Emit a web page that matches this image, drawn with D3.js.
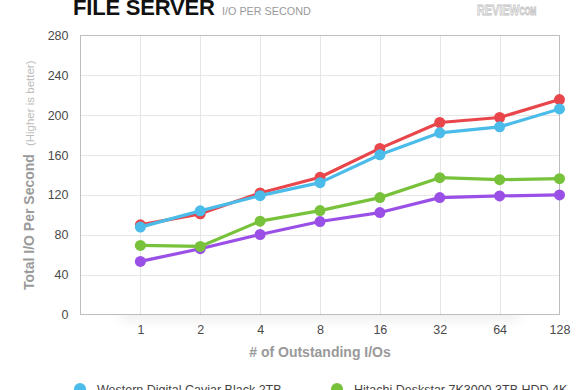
<!DOCTYPE html>
<html><head><meta charset="utf-8">
<script src="https://cdn.jsdelivr.net/npm/d3@7"></script>
<style>
html,body{margin:0;padding:0;background:#fff;}
svg{display:block;font-family:"Liberation Sans",Arial,Helvetica,sans-serif;}
</style></head>
<body><svg id="c" width="580" height="390"></svg>
<script>
const categories = ["1","2","4","8","16","32","64","128"];
const seriesNames = ["Western Digital Caviar Black 2TB","Hitachi Deskstar 7K3000 3TB HDD 4K","Seagate Barracuda XT 3TB","Western Digital Caviar Green 3TB"];
const seriesColors = ["#4bbbea","#77c23a","#e9464c","#9a50e6"];
const valuesBlue   = [87.7, 104, 119.3, 132.3, 160.3, 182.3, 188.3, 206.3];
const valuesGreen  = [69.3, 68.3, 93.7, 104.3, 117.3, 137.3, 135.3, 136.3];
const valuesRed    = [90, 101, 122, 137.7, 166.7, 192.7, 197.7, 215.7];
const valuesPurple = [53.3, 66, 80.3, 93.3, 102.3, 117.3, 119, 120];
const yTicks = [0,40,80,120,160,200,240,280];

const svg = d3.select("#c");
const L = 80.5, R = 559.5, T = 35.5, B = 314.5;
const step = (R - L) / categories.length;
const x = d3.scalePoint().domain(categories).range([L + step, R]);
const y = d3.scaleLinear().domain([0, 280]).range([B, T]);

// shadow under plot
const defs = svg.append("defs");
const f = defs.append("filter").attr("id","blur").attr("x","-20%").attr("y","-200%").attr("width","140%").attr("height","500%");
f.append("feGaussianBlur").attr("stdDeviation", 6);
svg.append("rect").attr("x", L + 40).attr("y", B - 4).attr("width", R - L - 80).attr("height", 10)
  .attr("fill", "#000").attr("opacity", 0.07).attr("filter", "url(#blur)");
svg.append("rect").attr("x", L).attr("y", T).attr("width", R - L).attr("height", B - T).attr("fill", "#fff");

// grid
svg.append("g").selectAll("line").data(yTicks.slice(1, -1)).join("line")
  .attr("x1", L).attr("x2", R).attr("y1", d => Math.round(y(d)) + 0.5).attr("y2", d => Math.round(y(d)) + 0.5)
  .attr("stroke", "#e6e6e6").attr("stroke-width", 1);
svg.append("g").selectAll("line").data(categories.slice(0, -1)).join("line")
  .attr("y1", T).attr("y2", B).attr("x1", d => Math.round(x(d)) + 0.5).attr("x2", d => Math.round(x(d)) + 0.5)
  .attr("stroke", "#e6e6e6").attr("stroke-width", 1);
svg.append("rect").attr("x", L).attr("y", T).attr("width", R - L).attr("height", B - T)
  .attr("fill", "none").attr("stroke", "#bdbdbd").attr("stroke-width", 1);

// axes labels
const yAxis = d3.axisLeft(y).tickValues(yTicks).tickSize(0).tickPadding(12);
const ga = svg.append("g").attr("transform", `translate(${L},0)`).call(yAxis);
ga.select(".domain").remove();
ga.selectAll("text").attr("font-size", 12.5).attr("fill", "#4a4a4a").attr("font-family", "Liberation Sans, Arial, sans-serif");

const xAxis = d3.axisBottom(x).tickSize(0).tickPadding(11);
const gx = svg.append("g").attr("transform", `translate(0,${B})`).call(xAxis);
gx.select(".domain").remove();
gx.selectAll("text").attr("font-size", 12.5).attr("fill", "#4a4a4a").attr("font-family", "Liberation Sans, Arial, sans-serif");

svg.append("text").attr("x", (L + R) / 2).attr("y", 357).attr("text-anchor", "middle")
  .attr("font-size", 14).attr("font-weight", "bold").attr("fill", "#999").text("# of Outstanding I/Os");

const yl = svg.append("text").attr("transform", "translate(34,290) rotate(-90)").attr("text-anchor", "start");
yl.append("tspan").attr("font-size", 14).attr("font-weight", "bold").attr("fill", "#9a9a9a").text("Total I/O Per Second");
yl.append("tspan").attr("dx", 8).attr("font-size", 11.5).attr("fill", "#bdbdbd").text("(Higher is better)");

// title
svg.append("text").attr("x", 73).attr("y", 15).attr("font-size", 22).attr("font-weight", "bold")
  .attr("fill", "#111").attr("letter-spacing", -0.2).text("FILE SERVER");
svg.append("text").attr("x", 222).attr("y", 15).attr("font-size", 10.8).attr("fill", "#9a9a9a").text("I/O PER SECOND");
const logo = svg.append("text").attr("transform", "translate(477,15) scale(0.72,1)")
  .attr("fill", "#f4f4f4").attr("stroke", "#c2c2c2").attr("stroke-width", 0.8).attr("font-weight", "bold");
logo.append("tspan").attr("font-size", 15).text("REVIEW");
logo.append("tspan").attr("font-size", 10).text("COM");

// series
const series = [
  {name: seriesNames[3], color: seriesColors[3], values: valuesPurple},
  {name: seriesNames[1], color: seriesColors[1], values: valuesGreen},
  {name: seriesNames[2], color: seriesColors[2], values: valuesRed},
  {name: seriesNames[0], color: seriesColors[0], values: valuesBlue}
];
const line = d3.line().x((d, i) => x(categories[i])).y(d => y(d));
series.forEach(s => {
  const g = svg.append("g");
  g.append("path").attr("d", line(s.values)).attr("fill", "none").attr("stroke", s.color).attr("stroke-width", 3.2).attr("stroke-linejoin", "round");
  g.selectAll("circle").data(s.values).join("circle")
    .attr("cx", (d, i) => x(categories[i])).attr("cy", d => y(d)).attr("r", 5.5).attr("fill", s.color);
});

// legend
const legendX = [80, 337, 80, 337];
const legendY = [389, 389, 412, 412];
seriesNames.forEach((n, i) => {
  svg.append("circle").attr("cx", legendX[i]).attr("cy", legendY[i]).attr("r", 6).attr("fill", seriesColors[i]);
  svg.append("text").attr("x", legendX[i] + 17).attr("y", legendY[i] + 4.5).attr("font-size", 12.5)
    .attr("fill", "#444").text(n);
});
</script></body></html>
